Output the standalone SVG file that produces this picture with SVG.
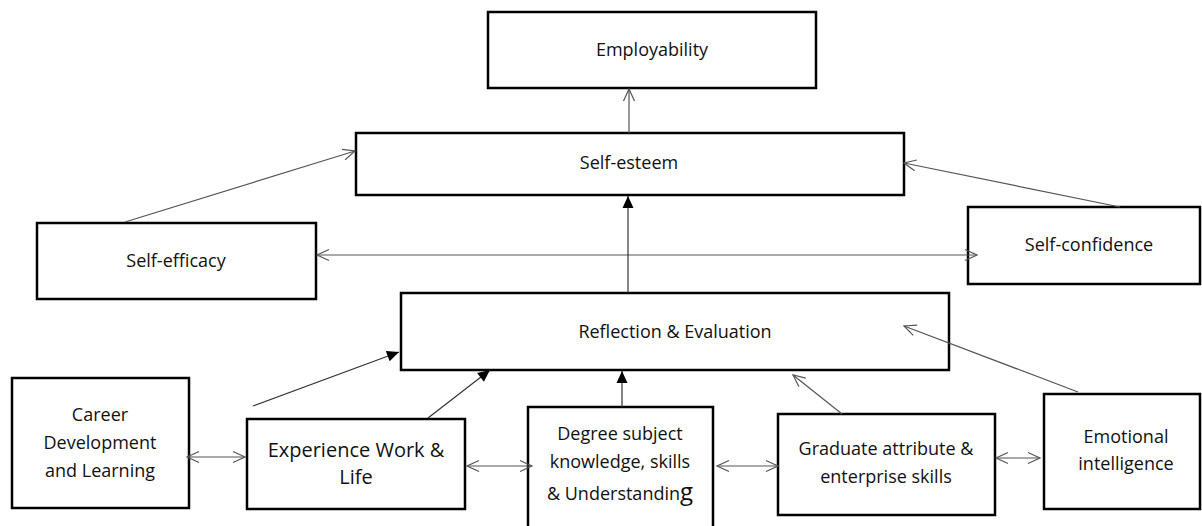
<svg xmlns="http://www.w3.org/2000/svg" width="1202" height="526" viewBox="0 0 1202 526">
<style>
.box{fill:#fff;stroke:#000;stroke-width:2.5}
.t{font-family:"Open Sans","Noto Sans",sans-serif;font-size:18px;fill:#111;text-anchor:middle}
.c{stroke:#555;stroke-width:1.2;fill:none}
.o{marker-end:url(#open)}
.b{marker-start:url(#open);marker-end:url(#open)}
.f{stroke:#333;marker-end:url(#filled)}
</style>
<defs>
<marker id="open" markerUnits="userSpaceOnUse" markerWidth="16" markerHeight="14" viewBox="-14 -7 16 14" refX="0" refY="0" orient="auto-start-reverse">
<path d="M-12,-5.5 L0,0 L-12,5.5" fill="none" stroke="#555" stroke-width="1.2"/>
</marker>
<marker id="filled" markerUnits="userSpaceOnUse" markerWidth="16" markerHeight="14" viewBox="-14 -7 16 14" refX="0" refY="0" orient="auto">
<path d="M-12,-5.5 L0,0 L-12,5.5 Z" fill="#000"/>
</marker>
</defs>
<g id="employability">
<rect class="box" x="488" y="12" width="328" height="76"/>
<text class="t" x="652" y="56">Employability</text>
</g>
<g id="self-esteem">
<rect class="box" x="356" y="133" width="548" height="62"/>
<text class="t" x="629" y="169">Self-esteem</text>
</g>
<g id="self-efficacy">
<rect class="box" x="37" y="223" width="279" height="76"/>
<text class="t" x="176" y="267">Self-efficacy</text>
</g>
<g id="self-confidence">
<rect class="box" x="968" y="207" width="232" height="77"/>
<text class="t" x="1089" y="251">Self-confidence</text>
</g>
<g id="reflection">
<rect class="box" x="401" y="293" width="548" height="77"/>
<text class="t" x="675" y="338">Reflection &amp; Evaluation</text>
</g>
<g id="career">
<rect class="box" x="12" y="378" width="177" height="130"/>
<text class="t" x="100" y="421">Career</text>
<text class="t" x="100" y="449">Development</text>
<text class="t" x="100" y="477">and Learning</text>
</g>
<g id="experience">
<rect class="box" x="247" y="419" width="218" height="90"/>
<text class="t" x="356" y="457" style="font-size:20px">Experience Work &amp;</text>
<text class="t" x="356" y="484" style="font-size:20px">Life</text>
</g>
<g id="degree">
<rect class="box" x="528" y="407" width="185" height="125"/>
<text class="t" x="620" y="440">Degree subject</text>
<text class="t" x="620" y="468">knowledge, skills</text>
<text class="t" x="620" y="500">&amp; Understandin<tspan style="font-size:24px">g</tspan></text>
</g>
<g id="graduate">
<rect class="box" x="778" y="414" width="217" height="101"/>
<text class="t" x="886" y="455">Graduate attribute &amp;</text>
<text class="t" x="886" y="483">enterprise skills</text>
</g>
<g id="emotional">
<rect class="box" x="1044" y="394" width="156" height="115"/>
<text class="t" x="1126" y="443">Emotional</text>
<text class="t" x="1126" y="470">intelligence</text>
</g>
<g id="connectors">
<line class="c o" x1="629" y1="133" x2="629" y2="89"/>
<line class="c o" x1="125" y1="222" x2="355" y2="151"/>
<line class="c o" x1="1120" y1="207" x2="904" y2="163"/>
<line class="c b" x1="317" y1="255" x2="977" y2="255"/>
<line class="c f" x1="628" y1="293" x2="628" y2="196"/>
<line class="c f" x1="253" y1="406" x2="399" y2="352"/>
<line class="c f" x1="428" y1="418" x2="490" y2="370"/>
<line class="c f" x1="622" y1="407" x2="622" y2="371"/>
<line class="c o" x1="842" y1="414" x2="793" y2="375"/>
<line class="c o" x1="1078" y1="392" x2="904" y2="326"/>
<line class="c b" x1="187" y1="457" x2="245" y2="457"/>
<line class="c b" x1="467" y1="466" x2="532" y2="466"/>
<line class="c b" x1="717" y1="466" x2="778" y2="466"/>
<line class="c b" x1="996" y1="458" x2="1040" y2="458"/>
</g>
</svg>
